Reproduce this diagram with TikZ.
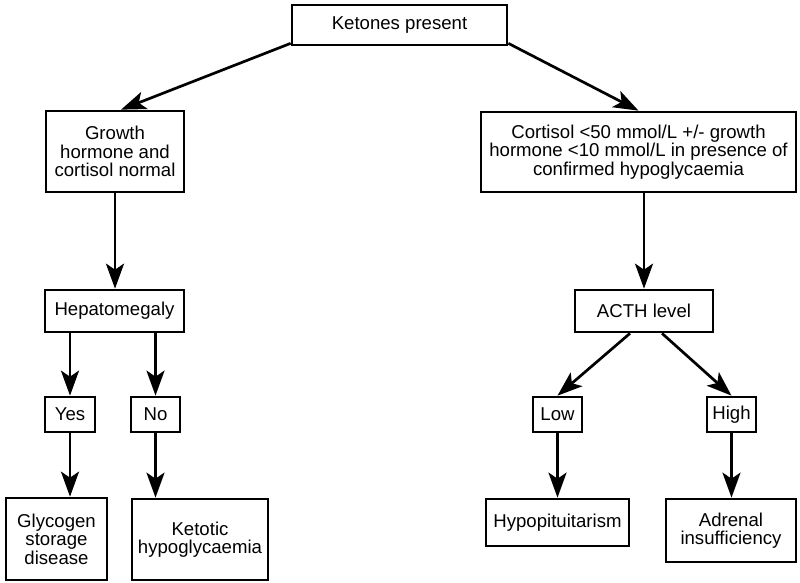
\documentclass[tikz,border=0pt]{standalone}
\usepackage{fontspec}
\setmainfont{Liberation Sans}
\usetikzlibrary{arrows.meta}
\begin{document}
\begin{tikzpicture}[x=1pt,y=-1pt,
  box/.style={draw=black,line width=2.7pt,align=center,inner sep=0pt,
    font=\fontsize{18.6}{18.6}\selectfont},
  arr/.style={line width=2.7pt,-{Stealth[length=25pt 0,width=18pt 0,inset=6pt 0]}}]
\useasboundingbox (0,0) rectangle (800,582);
\node[box,minimum width=215pt,minimum height=40pt] (ket) at (399.5,25) {Ketones present};
\node[box,minimum width=138pt,minimum height=81pt] (gh) at (115,151.5) {Growth\\hormone and\\cortisol normal};
\node[box,minimum width=315pt,minimum height=80pt] (cort) at (638.5,152) {Cortisol <50 mmol/L +/- growth\\hormone <10 mmol/L in presence of\\confirmed hypoglycaemia};
\node[box,minimum width=139pt,minimum height=42pt] (hep) at (114.5,311) {Hepatomegaly};
\node[box,minimum width=138pt,minimum height=42pt] (acth) at (644,311) {ACTH level};
\node[box,minimum width=50pt,minimum height=35pt] (yes) at (70,414.5) {Yes};
\node[box,minimum width=49pt,minimum height=35pt] (no) at (155.5,414.5) {No};
\node[box,minimum width=49pt,minimum height=35pt] (low) at (557.5,414.5) {Low};
\node[box,minimum width=49pt,minimum height=35pt] (high) at (731.5,414.5) {High};
\node[box,minimum width=101pt,minimum height=82pt] (gly) at (56.5,539) {Glycogen\\storage\\disease};
\node[box,minimum width=136pt,minimum height=81pt] (ket2) at (200,539.5) {Ketotic\\hypoglycaemia};
\node[box,minimum width=143pt,minimum height=47pt] (hypo) at (557.5,522.5) {Hypopituitarism};
\node[box,minimum width=130pt,minimum height=63pt] (adr) at (731,530.5) {Adrenal\\insufficiency};
\draw[arr] ([yshift=3pt]ket.south west) -- ([xshift=6pt]gh.north);
\draw[arr] ([yshift=3pt]ket.south east) -- (cort.north);
\draw[arr] (gh.south) -- (gh.south |- hep.north);
\draw[arr] (acth.north |- cort.south) -- (acth.north);
\draw[arr] (yes.north |- hep.south) -- (yes.north);
\draw[arr] (no.north |- hep.south) -- (no.north);
\draw[arr] ([xshift=-14pt]acth.south) -- (low.north);
\draw[arr] ([xshift=18pt]acth.south) -- (high.north);
\draw[arr] (yes.south) -- (yes.south |- gly.north);
\draw[arr] (no.south) -- (no.south |- ket2.north);
\draw[arr] (low.south) -- (low.south |- hypo.north);
\draw[arr] (high.south) -- (high.south |- adr.north);
\end{tikzpicture}
\end{document}
